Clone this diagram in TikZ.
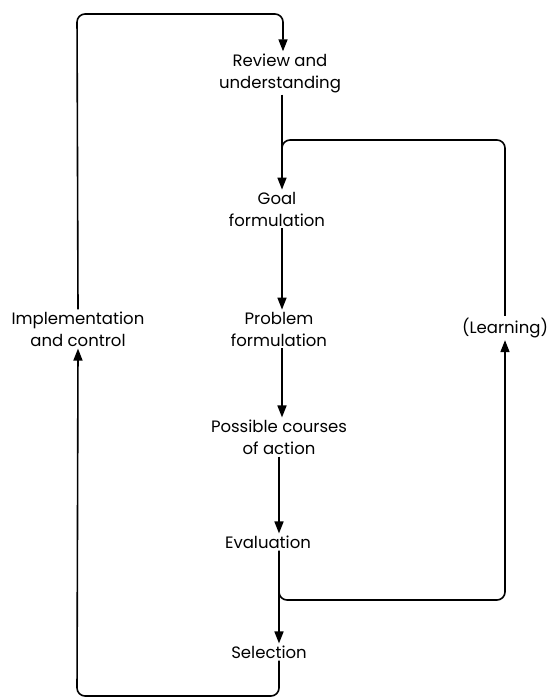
\documentclass[tikz,border=0pt]{standalone}
\usepackage{fontspec}
\setmainfont{Poppins}
\usetikzlibrary{arrows.meta}
\begin{document}
\begin{tikzpicture}[x=1pt,y=-1pt,
  lbl/.style={align=center, font=\fontsize{16.5}{22}\selectfont, inner sep=2pt},
  flow/.style={line width=1.6pt, rounded corners=8pt, -{Triangle[length=12pt,width=9pt]}},
  plain/.style={line width=1.6pt, rounded corners=8pt}]
\useasboundingbox (0,0) rectangle (556,699);
\node[lbl] (rev) at (280,73) {Review and\\understanding};
\node[lbl] (goal) at (277,209) {Goal\\formulation};
\node[lbl] (prob) at (279,329) {Problem\\formulation};
\node[lbl] (poss) at (279,437) {Possible courses\\of action};
\node[lbl] (eval) at (268,542) {Evaluation};
\node[lbl] (sel) at (269,652) {Selection};
\node[lbl] (impl) at (78,329) {Implementation\\and control};
\node[lbl] (learn) at (505,328) {(Learning)};
\coordinate (tl) at (77,14);
\coordinate (tr) at (283,14);
\coordinate (rj) at (282,140);
\coordinate (rtr) at (505,140);
\coordinate (ej) at (279,600);
\coordinate (ebr) at (505,600);
\coordinate (bl) at (77,696);
\coordinate (br) at (279,696);
\draw[flow] (impl.north) -- (tl) -- (tr) -- (rev.north -| tr);
\draw[flow] (rev.south -| rj) -- (goal.north -| rj);
\draw[plain] (learn.north) -- (rtr) -- (rj) -- ++(0,20);
\draw[flow] (goal.south -| rj) -- (prob.north -| rj);
\draw[flow] (prob.south -| rj) -- (poss.north -| rj);
\draw[flow] (poss.south -| ej) -- (eval.north -| ej);
\draw[flow] (eval.south -| ej) -- (sel.north -| ej);
\draw[flow] (eval.south -| ej) -- (ej) -- (ebr) -- (learn.south);
\draw[flow] (sel.south -| br) -- (br) -- (bl) -- (impl.south);
\end{tikzpicture}
\end{document}
